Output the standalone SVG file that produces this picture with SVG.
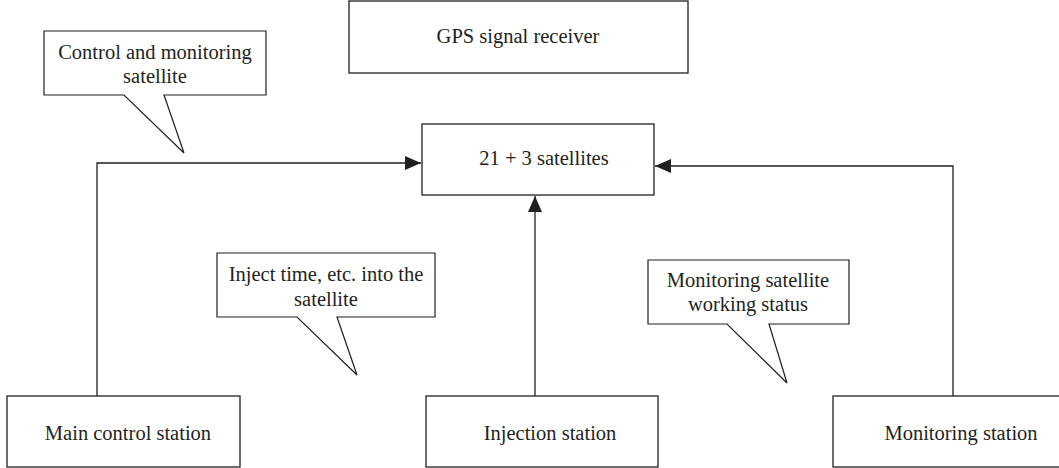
<svg xmlns="http://www.w3.org/2000/svg" width="1059" height="468" viewBox="0 0 1059 468">
  <style>
    .box { fill: #ffffff; stroke: #231f20; stroke-width: 1.3; }
    .callout { fill: #ffffff; stroke: #231f20; stroke-width: 1.2; stroke-linejoin: miter; }
    .link { fill: none; stroke: #231f20; stroke-width: 1.3; }
    .label { font-family: "Liberation Serif", "Times New Roman", serif; font-size: 20.5px; fill: #231f20; text-anchor: middle; }
  </style>
  <defs>
    <marker id="arrow" viewBox="0 0 16 14" refX="16" refY="7" markerWidth="16" markerHeight="14" markerUnits="userSpaceOnUse" orient="auto">
      <path d="M0,0 L16,7 L0,14 Z" fill="#231f20"/>
    </marker>
  </defs>
  <rect width="1059" height="468" fill="#ffffff"/>

  <!-- connectors -->
  <g id="connectors">
    <path class="link" d="M97,396 V163 H421" marker-end="url(#arrow)"/>
    <path class="link" d="M535,396 V196" marker-end="url(#arrow)"/>
    <path class="link" d="M953,396 V166 H655" marker-end="url(#arrow)"/>
  </g>

  <!-- nodes -->
  <g id="gps-receiver">
    <rect class="box" x="349" y="1" width="339" height="72"/>
    <text class="label" x="518" y="43">GPS signal receiver</text>
  </g>
  <g id="satellites">
    <rect class="box" x="422" y="124" width="232" height="71"/>
    <text class="label" x="544" y="165">21 + 3 satellites</text>
  </g>
  <g id="main-control-station">
    <rect class="box" x="7" y="396" width="233" height="71"/>
    <text class="label" x="128" y="440">Main control station</text>
  </g>
  <g id="injection-station">
    <rect class="box" x="426" y="396" width="232" height="71"/>
    <text class="label" x="550" y="440">Injection station</text>
  </g>
  <g id="monitoring-station">
    <rect class="box" x="833" y="396" width="232" height="71"/>
    <text class="label" x="961" y="440">Monitoring station</text>
  </g>

  <!-- callouts -->
  <g id="callout-control">
    <path class="callout" d="M44,31 H266 V95 H164 L184,153 L124,95 H44 Z"/>
    <text class="label" x="155" y="59">Control and monitoring</text>
    <text class="label" x="155" y="83">satellite</text>
  </g>
  <g id="callout-inject">
    <path class="callout" d="M217,253 H435 V317 H337 L357,375 L297,317 H217 Z"/>
    <text class="label" x="326" y="281">Inject time, etc. into the</text>
    <text class="label" x="326" y="306">satellite</text>
  </g>
  <g id="callout-monitor">
    <path class="callout" d="M648,260 H849 V324 H769 L787,383 L727,324 H648 Z"/>
    <text class="label" x="748" y="287">Monitoring satellite</text>
    <text class="label" x="748" y="311">working status</text>
  </g>
</svg>
